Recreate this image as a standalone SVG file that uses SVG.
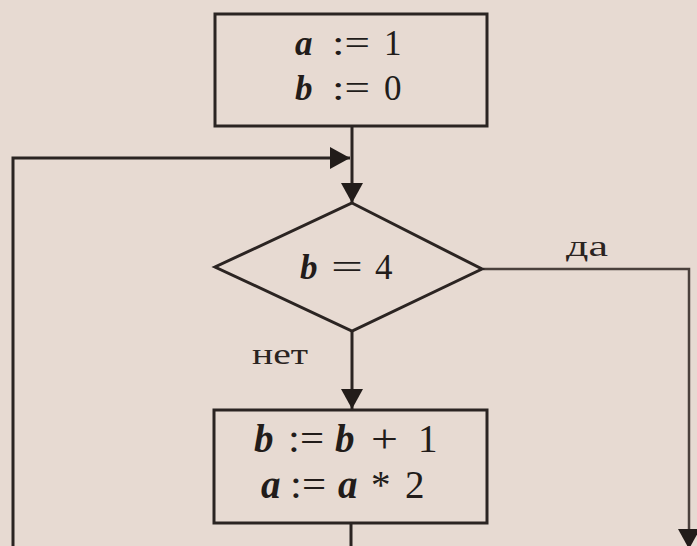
<svg xmlns="http://www.w3.org/2000/svg" width="697" height="546" viewBox="0 0 697 546">
<defs>
<style>
.bg{fill:#e7dad2}
.shape{fill:none;stroke:#2b2422;stroke-width:3}
.conn{fill:none;stroke:#2b2422;stroke-width:3}
.thin{stroke-width:2.5;stroke:#4a403c}
.t{font-family:"Liberation Serif","Times New Roman",serif;font-size:35px;fill:#221c1a}
.b{font-size:39px}
.v{font-style:italic;font-weight:bold}
.lbl{font-family:"Liberation Serif","Times New Roman",serif;font-size:29px;fill:#2a2321}
</style>
<marker id="ah" markerUnits="userSpaceOnUse" markerWidth="22" markerHeight="24" refX="20" refY="11" orient="auto" viewBox="0 0 22 24">
<path d="M0,0 L20,11 L0,22 z" fill="#221c1a"/>
</marker>
</defs>
<rect class="bg" x="0" y="0" width="697" height="546"/>
<g id="connectors">
<path class="conn" d="M352,126 V203" marker-end="url(#ah)"/>
<path class="conn" d="M352,331 V409" marker-end="url(#ah)"/>
<path class="conn" d="M351,523 V600 H13 V158 H350" marker-end="url(#ah)"/>
<path class="conn thin" d="M483,269 H689 V549" marker-end="url(#ah)"/>
</g>
<g id="init">
<rect class="shape" x="215" y="14" width="272" height="112"/>
<text class="t v" x="295" y="55">a</text>
<text class="t" x="332" y="55" textLength="38" lengthAdjust="spacingAndGlyphs">:=</text>
<text class="t" x="384" y="55">1</text>
<text class="t v" x="295" y="100">b</text>
<text class="t" x="332" y="100" textLength="38" lengthAdjust="spacingAndGlyphs">:=</text>
<text class="t" x="384" y="100">0</text>
</g>
<g id="cond">
<polygon class="shape" points="352,203 482,269 352,331 215,267"/>
<text class="t v" x="300" y="279">b</text>
<text class="t" x="331" y="279" textLength="32" lengthAdjust="spacingAndGlyphs">=</text>
<text class="t" x="375" y="279">4</text>
</g>
<g id="yes-label"><text class="lbl" x="566" y="256" textLength="42" lengthAdjust="spacingAndGlyphs">да</text></g>
<g id="no-label"><text class="lbl" x="252" y="364" textLength="56" lengthAdjust="spacingAndGlyphs">нет</text></g>
<g id="body">
<rect class="shape" x="214" y="410" width="273" height="113"/>
<text class="t b v" x="254" y="452">b</text>
<text class="t b" x="288" y="452" textLength="36" lengthAdjust="spacingAndGlyphs">:=</text>
<text class="t b v" x="335" y="452">b</text>
<text class="t b" x="371" y="452" textLength="27" lengthAdjust="spacingAndGlyphs">+</text>
<text class="t b" x="418" y="452">1</text>
<text class="t b v" x="261" y="498">a</text>
<text class="t b" x="290" y="498" textLength="36" lengthAdjust="spacingAndGlyphs">:=</text>
<text class="t b v" x="338" y="498">a</text>
<text class="t b" x="371" y="498">*</text>
<text class="t b" x="405" y="498">2</text>
</g>
</svg>
